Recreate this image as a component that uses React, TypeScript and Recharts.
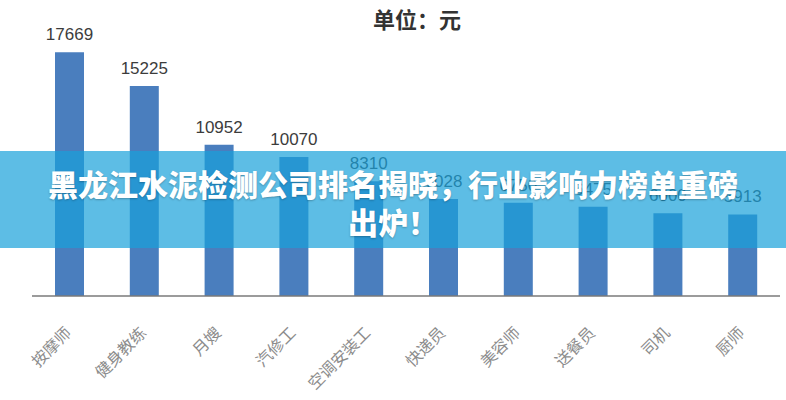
import React from 'react';
import { BarChart, Bar, XAxis, YAxis, LabelList } from 'recharts';

// 各职业平均月薪（单位：元）
const occupations = ['按摩师', '健身教练', '月嫂', '汽修工', '空调安装工', '快递员', '美容师', '送餐员', '司机', '厨师'];
const monthlyPay = [17669, 15225, 10952, 10070, 8310, 7028, 6750, 6475, 6000, 5913];
const yDomain = [0, 20000];

const chartData = occupations.map((name, i) => ({ name, pay: monthlyPay[i] }));

const RotatedTick = ({ x, y, payload }: any) => (
  <g transform={`translate(${x + 3},${y + 30})`}>
    <text
      textAnchor="end"
      transform="rotate(-45)"
      fontSize={16}
      fill="#8c8c8c"
      fontFamily="'Noto Sans CJK SC', sans-serif"
    >
      {payload.value}
    </text>
  </g>
);

export default function App() {
  return (
    <div
      style={{
        position: 'fixed',
        left: 0,
        top: 0,
        width: 786,
        height: 400,
        background: '#fff',
        overflow: 'hidden',
      }}
    >
      <BarChart width={786} height={400} data={chartData} margin={{ top: 20, right: 6, left: 32, bottom: 24 }}>
        <XAxis
          dataKey="name"
          height={80}
          interval={0}
          tickLine={false}
          axisLine={{ stroke: '#7a7a7a', strokeWidth: 1.5 }}
          tick={<RotatedTick />}
        />
        <YAxis hide domain={yDomain} />
        <Bar dataKey="pay" fill="#4a7ebe" barSize={29} isAnimationActive={false}>
          <LabelList
            dataKey="pay"
            position="top"
            offset={12}
            fill="#3c3c3c"
            fontSize={17}
            fontFamily="'Liberation Sans', Arial, sans-serif"
          />
        </Bar>
      </BarChart>

      <div
        style={{
          position: 'absolute',
          left: 373,
          top: 6,
          fontSize: 22,
          lineHeight: '24px',
          fontWeight: 700,
          color: '#333',
          fontFamily: "'Noto Sans CJK SC', sans-serif",
        }}
      >
        单位：元
      </div>

      {/* banner on top of the chart */}
      <div
        style={{
          position: 'absolute',
          left: 0,
          top: 151,
          width: 786,
          height: 97,
          boxSizing: 'border-box',
          paddingTop: 13,
          background: 'rgba(24, 161, 218, 0.7)',
          color: '#fff',
          textAlign: 'center',
          fontSize: 30,
          lineHeight: '38px',
          fontWeight: 900,
          fontFamily: "'Noto Sans CJK SC', sans-serif",
          textShadow: '0 1px 2px rgba(0,0,0,0.25)',
        }}
      >
        黑龙江水泥检测公司排名揭晓，行业影响力榜单重磅
        <br />
        出炉！
      </div>
    </div>
  );
}
